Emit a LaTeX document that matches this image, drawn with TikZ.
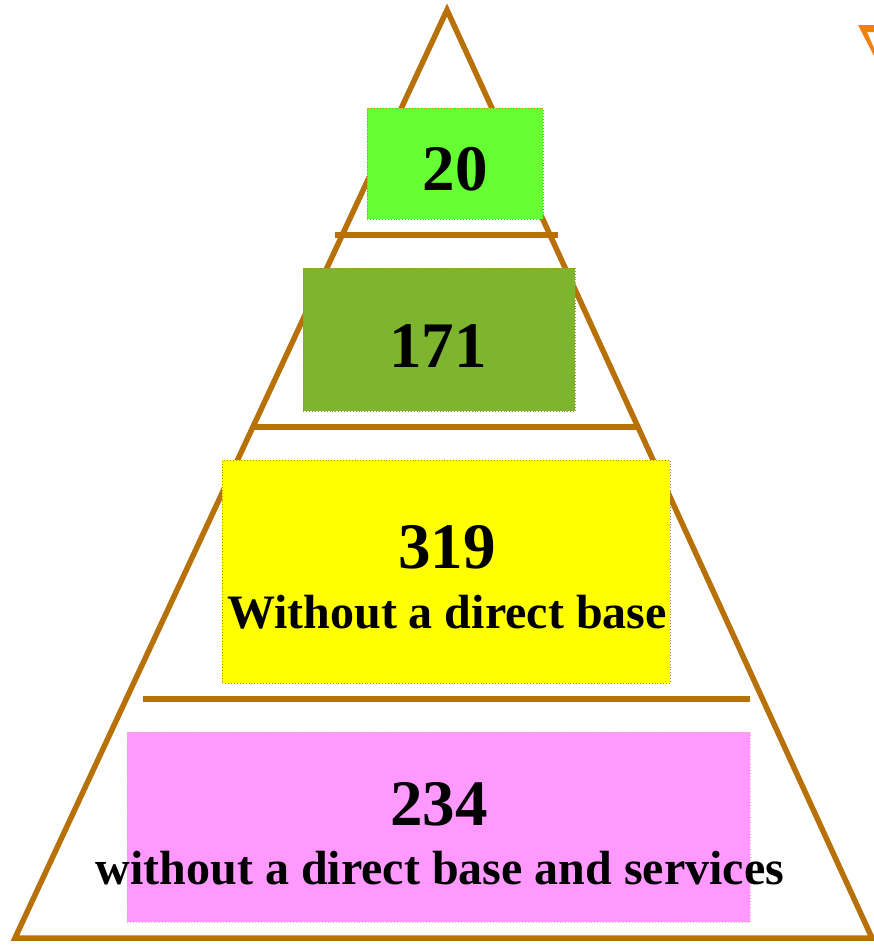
\documentclass[tikz,border=0pt]{standalone}
\usepackage{fontspec}
\setmainfont{Liberation Serif}
\definecolor{tribrown}{RGB}{184,112,8}
\definecolor{boxedge}{RGB}{196,128,40}
\definecolor{pinkedge}{RGB}{232,176,150}
\definecolor{greenA}{HTML}{66FF33}
\definecolor{greenB}{HTML}{7DB52F}
\definecolor{yellowC}{HTML}{FFFF00}
\definecolor{pinkD}{HTML}{FF99FF}
\definecolor{markorange}{RGB}{240,128,16}
\tikzset{
  tri/.style={draw=tribrown, line width=5.5pt, line join=miter},
  level/.style={draw=tribrown, line width=5.5pt},
  box/.style={rectangle, draw=boxedge, dotted, line width=0.9pt, inner sep=0pt, anchor=north west},
  numtxt/.style={anchor=base, inner sep=0pt, font=\fontsize{65}{70}\selectfont\bfseries},
  labtxt/.style={anchor=base, inner sep=0pt, font=\fontsize{48}{52}\selectfont\bfseries},
}
\begin{document}
\begin{tikzpicture}[x=1pt,y=-1pt]
\useasboundingbox (0,0) rectangle (874,945);
% triangle
\coordinate (apex) at (447,10);
\coordinate (bl) at (15,938);
\coordinate (br) at (872,938);
\draw[tri] (apex) -- (br) -- (bl) -- cycle;
% level lines
\coordinate (l1a) at (335,235); \coordinate (l1b) at (558,235);
\coordinate (l2a) at (253,427); \coordinate (l2b) at (640,427);
\coordinate (l3a) at (143,699); \coordinate (l3b) at (750,699);
\draw[level] (l1a) -- (l1b);
\draw[level] (l2a) -- (l2b);
\draw[level] (l3a) -- (l3b);
% boxes
\node[box, fill=greenA, minimum width=176pt, minimum height=111pt] (b20) at (367,108) {};
\node[box, fill=greenB, minimum width=272pt, minimum height=143pt] (b171) at (303,268) {};
\node[box, fill=yellowC, minimum width=448pt, minimum height=223pt] (b319) at (222,460) {};
\node[box, draw=pinkedge, fill=pinkD, minimum width=623pt, minimum height=190pt] (b234) at (127,732) {};
% texts
\node[numtxt] (t20) at (455,190) {20};
\node[numtxt] (t171) at (438,367) {171};
\node[numtxt] (t319) at (447,568) {319};
\node[labtxt] (l319) at (447,628) {Without a direct base};
\node[numtxt] (t234) at (439,825) {234};
\node[labtxt] (l234) at (440,884) {without a direct base and services};
% orange mark at top right
\fill[markorange] (858,25) -- (874,25) -- (874,32) -- (867,32) -- (874,48) -- (874,56) -- cycle;
\end{tikzpicture}
\end{document}
